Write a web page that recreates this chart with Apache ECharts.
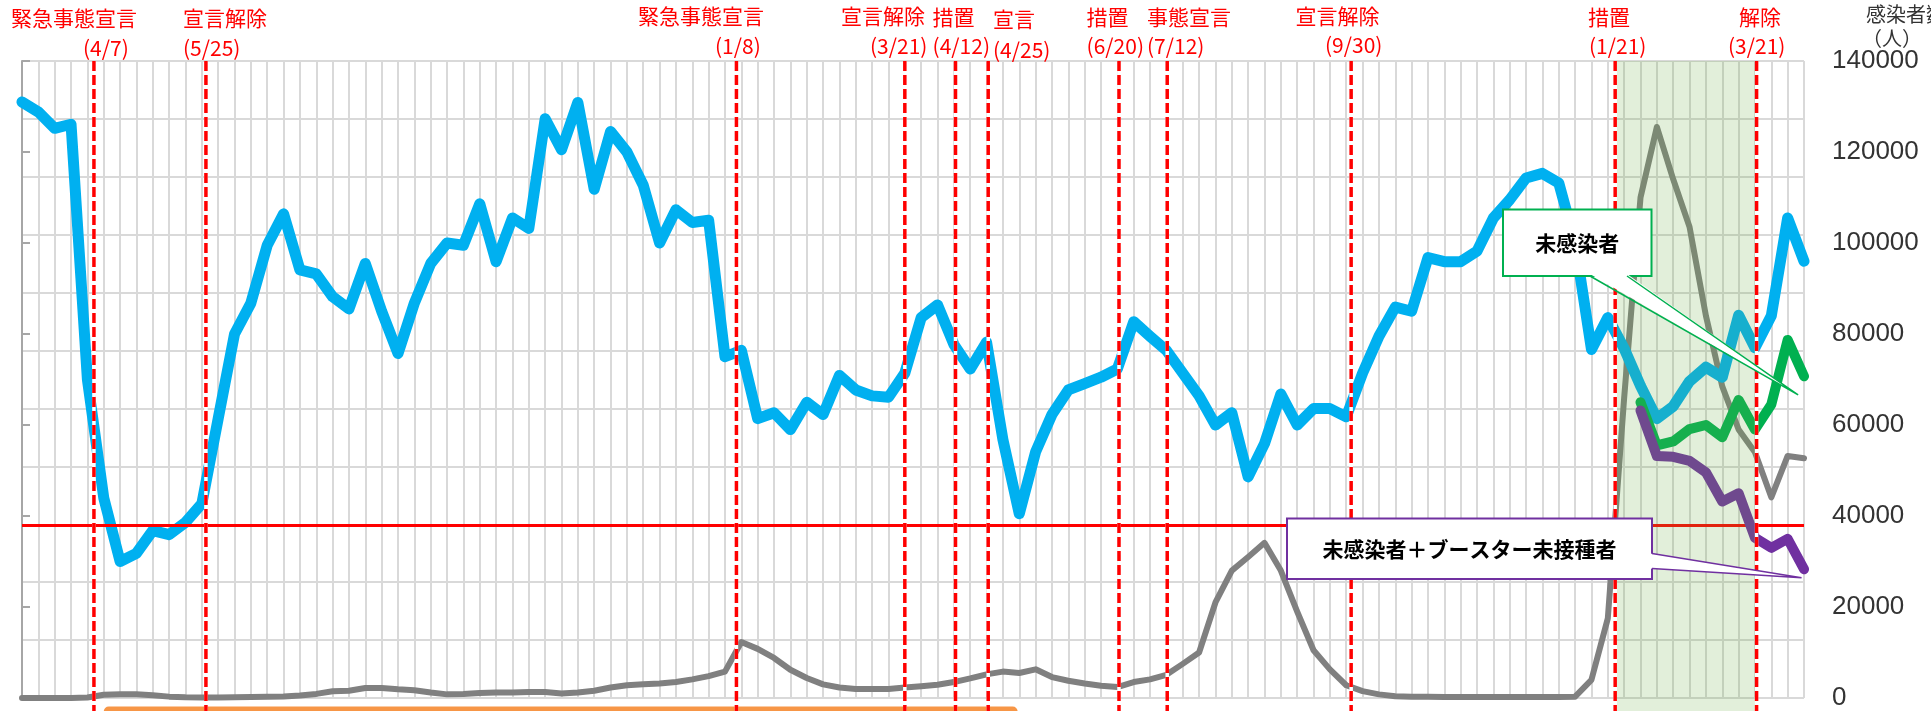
<!DOCTYPE html>
<html>
<head>
<meta charset="utf-8">
<script src="https://cdn.jsdelivr.net/npm/echarts@6/dist/echarts.min.js"></script>
<style>
html,body{margin:0;padding:0;background:#fff;}
#c{width:1931px;height:711px;}
</style>
</head>
<body>
<div id="c"></div>
<script>
// ---------------- DATA ----------------
// weekly categories (week starting dates)
const categories = (function () {
  const out = [];
  const d0 = Date.UTC(2020, 2, 7);
  for (let k = 0; k < 110; k++) {
    const d = new Date(d0 + k * 7 * 86400000);
    out.push(d.getUTCFullYear() + '/' + (d.getUTCMonth() + 1) + '/' + d.getUTCDate());
  }
  return out;
})();

// gray line: weekly new infections
const infections = [
  0, 0, 0, 0, 100, 700, 800, 800, 600, 300,
  150, 100, 100, 150, 200, 250, 350, 550, 900, 1500,
  1600, 2200, 2200, 1900, 1700, 1200, 800, 900, 1100, 1200,
  1200, 1300, 1300, 1000, 1200, 1600, 2300, 2800, 3000, 3200,
  3500, 4100, 4800, 5800, 12300, 10800, 8800, 6200, 4400, 3000,
  2300, 2000, 2000, 2000, 2300, 2600, 2900, 3500, 4300, 5200,
  5800, 5500, 6300, 4600, 3800, 3200, 2700, 2400, 3500, 4100,
  5100, 7500, 10000, 21000, 28000, 31000, 34100, 28000, 19000, 10500,
  6300, 2800, 1500, 800, 400, 300, 250, 200, 200, 200,
  200, 200, 200, 200, 200, 300, 4000, 17500, 66000, 110000,
  125500, 114000, 103500, 84000, 68500, 59000, 54000, 44100, 53200, 52700
];

// blue line
const mobility = [
  131000, 128800, 125200, 126100, 70000, 44000, 30000, 31800, 36800, 35900,
  38600, 42700, 61400, 80000, 86800, 99500, 106400, 94100, 93200, 88200,
  85500, 95500, 85000, 75700, 86800, 95500, 100000, 99500, 108600, 95900,
  105500, 103200, 127300, 120500, 130900, 111800, 124500, 120000, 112700, 100000,
  107300, 104500, 105000, 75000, 76400, 61400, 62700, 59000, 65000, 62300,
  70900, 67700, 66400, 66100, 71400, 83600, 86400, 77700, 72300, 78200,
  56800, 40500, 54100, 62300, 67700, 69100, 70500, 72300, 82700, 79500,
  76400, 71400, 66400, 60000, 62700, 48600, 55900, 66800, 60000, 63600,
  63600, 61800, 71400, 79500, 85900, 85000, 96800, 95900, 95900, 98200,
  105500, 109500, 114300, 115300, 113200, 100000, 76600, 83600, 76800, 68600,
  61400, 64100, 69600, 72700, 70500, 84100, 77000, 84000, 105500, 96000
];

// green & purple lines start at this week index
const subSeriesStartIndex = 99;
const uninfected = [65000, 55500, 56400, 59100, 60000, 57300, 65500, 59000, 64500, 78700, 70700];
const uninfectedNoBooster = [63200, 53200, 53000, 52100, 49600, 43200, 45000, 35200, 33000, 35000, 28300];

// red horizontal reference value
const thresholdValue = 38000;

// y axis ticks
const yMin = 0, yMax = 140000, yStep = 20000;

// event markers (fractional week index) and their label texts
const eventPositions = [4.4, 11.25, 43.7, 54.0, 57.1, 59.1, 67.1, 70.05, 81.3, 97.45, 106.1];
const eventLabels = [
  ['緊急事態宣言', '(4/7)'],
  ['宣言解除', '(5/25)'],
  ['緊急事態宣言', '(1/8)'],
  ['宣言解除', '(3/21)'],
  ['措置', '(4/12)'],
  ['宣言', '(4/25)'],
  ['措置', '(6/20)'],
  ['事態宣言', '(7/12)'],
  ['宣言解除', '(9/30)'],
  ['措置', '(1/21)'],
  ['解除', '(3/21)']
];

// shaded period (fractional week index)
const shadedPeriod = [97.55, 106.1];
// orange period bar at the bottom (fractional week index)
const orangePeriod = [5.0, 60.9];

// callouts: text and anchor point in data space [week index, value]
const callouts = [
  { text: '未感染者', tip: [108.64, 66600] },
  { text: '未感染者＋ブースター未接種者', tip: [108.85, 26440] }
];

const axisTitleLines = ['感染者数', '（人）'];

// ---------------- LAYOUT (pixels) ----------------
const W = 1931, H = 711;
const labelLayout = [
  [[11, 18], [83, 48]],
  [[183, 18], [183, 48]],
  [[638, 16], [715, 46]],
  [[841, 16], [870, 46]],
  [[932.6, 17], [932.6, 46]],
  [[993, 19.5], [993, 50]],
  [[1086.6, 17], [1086.6, 46]],
  [[1147, 17], [1147, 46]],
  [[1295.6, 16], [1325, 45]],
  [[1588, 17], [1589, 46]],
  [[1739, 17], [1728, 46]]
];
const calloutLayout = [
  { box: [1503, 209.5, 148.5, 66.5], color: '#00b050', base: [[1590, 276], [1627, 276]], side: 'bottom' },
  { box: [1287, 518.5, 365, 60.5], color: '#7030a0', base: [[1652, 553.5], [1652, 568.5]], side: 'right' }
];
const axisTitleLayout = [[1866, 14], [1892, 38]];

// ---------------- CHART ----------------
const chart = echarts.init(document.getElementById('c'), null, { renderer: 'canvas', width: W, height: H });

const padNulls = new Array(subSeriesStartIndex).fill(null);

const option = {
  animation: false,
  backgroundColor: '#ffffff',
  grid: { left: 22, right: 127, top: 61, bottom: 12, containLabel: false },
  xAxis: [
    {
      type: 'category', data: categories, boundaryGap: false,
      axisLine: { show: false }, axisTick: { show: false }, axisLabel: { show: false },
      splitLine: { show: true, interval: 0, lineStyle: { color: '#d9d9d9', width: 2 } }
    },
    { type: 'value', min: 0, max: categories.length - 1, show: false }
  ],
  yAxis: [
    {
      type: 'value', position: 'right', min: yMin, max: yMax, interval: yStep,
      axisLine: { show: true, lineStyle: { color: '#a6a6a6', width: 2 } },
      axisTick: { show: true, length: 8, lineStyle: { color: '#a6a6a6', width: 2 } },
      axisLabel: { color: '#333333', fontSize: 26, fontFamily: 'Liberation Sans', margin: 28,
        formatter: v => String(v) },
      splitLine: { show: false }
    },
    {
      type: 'value', position: 'left', min: 0, max: 11, interval: 1,
      axisLine: { show: false }, axisTick: { show: false }, axisLabel: { show: false },
      splitLine: { show: true, lineStyle: { color: '#d9d9d9', width: 2 } }
    }
  ],
  series: [
    {
      name: '新規感染者数', type: 'line', data: infections, symbol: 'none', z: 2,
      lineStyle: { color: '#808080', width: 6, join: 'round', cap: 'round' }
    },
    {
      name: '人流', type: 'line', data: mobility, symbol: 'none', z: 3,
      lineStyle: { color: '#00b0f0', width: 11, join: 'round', cap: 'round' }
    },
    {
      name: '未感染者', type: 'line', data: padNulls.concat(uninfected), symbol: 'none', z: 4,
      lineStyle: { color: '#00b050', width: 10, join: 'round', cap: 'round' }
    },
    {
      name: '未感染者＋ブースター未接種者', type: 'line', data: padNulls.concat(uninfectedNoBooster), symbol: 'none', z: 5,
      lineStyle: { color: '#7030a0', width: 10, join: 'round', cap: 'round' },
      markLine: {
        silent: true, symbol: ['none', 'none'], label: { show: false },
        lineStyle: { color: '#ff0000', width: 3, type: 'solid' },
        emphasis: { disabled: true },
        data: [{ yAxis: thresholdValue }]
      }
    }
  ]
};
chart.setOption(option);

const toX = v => chart.convertToPixel({ xAxisIndex: 1 }, v);
const toY = v => chart.convertToPixel({ yAxisIndex: 0 }, v);
const plotTop = toY(yMax);

const els = [];
// shaded period (semi transparent overlay)
els.push({
  type: 'rect', z: 100, silent: true,
  shape: { x: toX(shadedPeriod[0]), y: plotTop, width: toX(shadedPeriod[1]) - toX(shadedPeriod[0]), height: H - plotTop },
  style: { fill: 'rgba(112,173,71,0.2)' }
});
// orange period bar
els.push({
  type: 'rect', z: 100, silent: true,
  shape: { x: toX(orangePeriod[0]), y: 706.5, width: toX(orangePeriod[1]) - toX(orangePeriod[0]), height: 10, r: [5, 5, 0, 0] },
  style: { fill: '#f79646' }
});
// event lines and labels
eventPositions.forEach((p, k) => {
  const x = toX(p);
  els.push({ type: 'line', z: 110, silent: true, shape: { x1: x, y1: plotTop, x2: x, y2: H },
    style: { stroke: '#ffffff', lineWidth: 3.5 } });
  els.push({ type: 'line', z: 111, silent: true, shape: { x1: x, y1: plotTop, x2: x, y2: H },
    style: { stroke: '#ff0000', lineWidth: 3.5, lineDash: [10, 4] } });
  eventLabels[k].forEach((t, j) => {
    const pos = labelLayout[k][j];
    els.push({ type: 'text', z: 112, silent: true,
      style: { text: t, x: pos[0], y: pos[1], fill: '#ff0000', fontSize: 21,
        fontFamily: '"Noto Sans CJK JP"', textAlign: 'left', textVerticalAlign: 'middle',
        align: 'left', verticalAlign: 'middle' } });
  });
});
// callouts
callouts.forEach((c, k) => {
  const L = calloutLayout[k];
  const tip = [toX(c.tip[0]), toY(c.tip[1])];
  const [bx, by, bw, bh] = L.box;
  els.push({ type: 'rect', z: 120, silent: true, shape: { x: bx, y: by, width: bw, height: bh },
    style: { fill: '#ffffff', stroke: L.color, lineWidth: 2 } });
  const b0 = L.base[0], b1 = L.base[1];
  const inset = L.side === 'bottom' ? [[b0[0], b0[1] - 2], [b1[0], b1[1] - 2]] : [[b0[0] - 2, b0[1]], [b1[0] - 2, b1[1]]];
  els.push({ type: 'polygon', z: 121, silent: true, shape: { points: [inset[0], inset[1], tip] },
    style: { fill: '#ffffff' } });
  els.push({ type: 'polyline', z: 122, silent: true, shape: { points: [b0, tip, b1] },
    style: { stroke: L.color, lineWidth: 1.5, fill: null } });
  els.push({ type: 'text', z: 123, silent: true,
    style: { text: c.text, x: bx + bw / 2, y: by + bh / 2, fill: '#000000', fontSize: 21, fontWeight: 'bold',
      fontFamily: '"Noto Sans CJK JP"', textAlign: 'center', textVerticalAlign: 'middle',
      align: 'center', verticalAlign: 'middle' } });
});
// axis title
axisTitleLines.forEach((t, k) => {
  const pos = axisTitleLayout[k];
  els.push({ type: 'text', z: 112, silent: true,
    style: { text: t, x: pos[0], y: pos[1], fill: '#333333', fontSize: 20,
      fontFamily: '"Noto Sans CJK JP"', textAlign: k === 0 ? 'left' : 'center', textVerticalAlign: 'middle',
      align: k === 0 ? 'left' : 'center', verticalAlign: 'middle' } });
});

chart.setOption({ graphic: { elements: els } });
</script>
</body>
</html>
